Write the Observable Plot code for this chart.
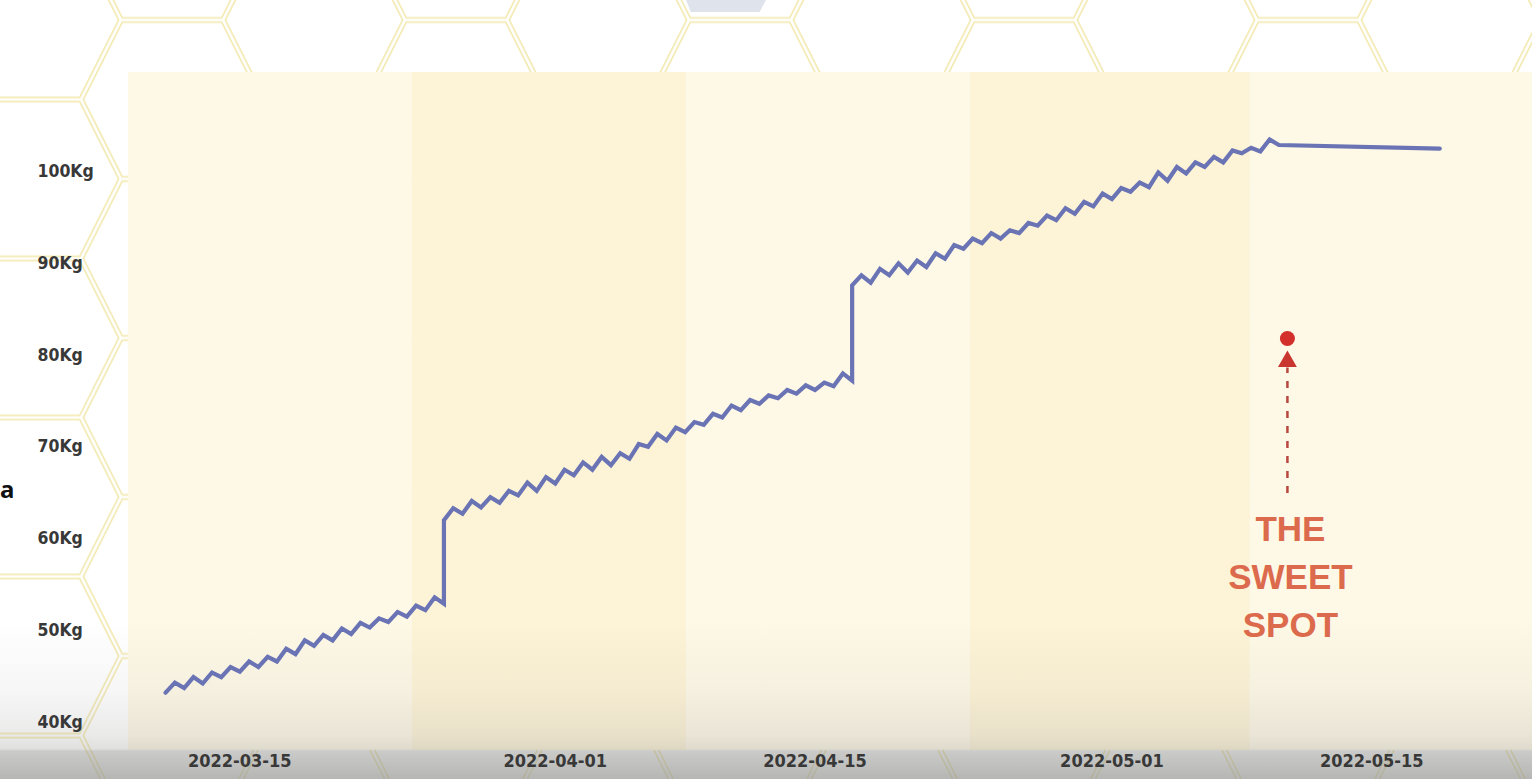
<!DOCTYPE html>
<html>
<head>
<meta charset="utf-8">
<script src="https://cdn.jsdelivr.net/npm/d3@7"></script>
<script src="https://cdn.jsdelivr.net/npm/@observablehq/plot@0.6"></script>
<style>
  html, body { margin: 0; padding: 0; background: #ffffff; overflow: hidden; }
  #wrap { position: relative; width: 1532px; height: 779px; }
  #blob { position: absolute; left: 686px; top: 0; width: 80px; height: 12px; background: #dfe4ec;
          clip-path: polygon(0 0, 100% 0, 92% 100%, 6% 100%); }
  #stray { position: absolute; left: 0px; top: 472px; font: bold 24px "Noto Sans", sans-serif; color: #111; }
</style>
</head>
<body>
<div id="wrap"><div id="stray">a</div><div id="blob"></div></div>
<script>
// ---------- data ----------
const xTickLabels = ["2022-03-15", "2022-04-01", "2022-04-15", "2022-05-01", "2022-05-15"];
const yTicks = [40, 50, 60, 70, 80, 90, 100];

// readings twice a day (00:00 / 12:00 UTC)
const seg1Start = "2022-03-11T00:00Z";
const seg1 = [43.2, 44.3, 43.7, 44.9, 44.2, 45.4, 44.9, 46.0, 45.5, 46.6, 46.0, 47.1, 46.6, 48.0, 47.4, 48.9,
              48.3, 49.5, 48.9, 50.2, 49.6, 50.8, 50.3, 51.3, 50.9, 52.0, 51.5, 52.7, 52.2, 53.6, 52.9];
const seg2Start = "2022-03-26T00:00Z";
const seg2 = [62.0, 63.3, 62.7, 64.1, 63.4, 64.5, 63.9, 65.2, 64.7, 66.1, 65.2, 66.7, 66.0, 67.5, 66.9, 68.3,
              67.5, 68.9, 68.0, 69.3, 68.7, 70.3, 70.0, 71.4, 70.7, 72.1, 71.6, 72.7, 72.4, 73.6, 73.2, 74.5,
              74.0, 75.1, 74.7, 75.6, 75.3, 76.2, 75.8, 76.7, 76.2, 77.0, 76.6, 78.0, 77.2];
const seg3Start = "2022-04-17T00:00Z";
const seg3 = [87.6, 88.7, 87.9, 89.4, 88.7, 90.0, 89.0, 90.3, 89.6, 91.1, 90.5, 92.0, 91.6, 92.7, 92.2, 93.3,
              92.7, 93.6, 93.3, 94.4, 94.1, 95.2, 94.7, 96.0, 95.4, 96.7, 96.2, 97.6, 97.0, 98.2, 97.8, 98.8,
              98.3, 99.9, 99.0, 100.5, 99.8, 101.0, 100.5, 101.6, 101.0, 102.3, 102.0, 102.6, 102.2, 103.5];
const plateauDates = ["2022-05-10T00:00Z", "2022-05-18T16:00Z"];
const plateau = [102.9, 102.5];

// alternating background bands
const bandEdges = ["2022-03-09T00:00Z", "2022-03-24T07:00Z", "2022-04-08T02:00Z", "2022-04-23T09:00Z",
                   "2022-05-08T11:00Z", "2022-05-23T16:00Z"];
const bandFills = ["#fef8e6", "#fdf3d6", "#fef8e6", "#fdf3d6", "#fef8e6"];

// annotation
const sweetDate = "2022-05-10T11:00Z";
const sweetDot = 81.8;
const sweetArrowTop = 79.3;
const sweetDashTop = 78.6;
const sweetDashBottom = 64.9;
const sweetTextY = 56.2;
const sweetLabel = "THE\nSWEET\nSPOT";

// ---------- build ----------
const H12 = 12 * 3600e3;
const expand = (start, vals) => vals.map((v, i) => ({date: new Date(Date.parse(start) + i * H12), weight: v}));
const series = [
  ...expand(seg1Start, seg1),
  ...expand(seg2Start, seg2),
  ...expand(seg3Start, seg3),
  ...plateauDates.map((d, i) => ({date: new Date(d), weight: plateau[i]}))
];
const bands = bandFills.map((f, i) => ({x1: new Date(bandEdges[i]), x2: new Date(bandEdges[i + 1]), fill: f}));
const sweet = [{date: new Date(sweetDate)}];

function honeycomb(index, scales, values, dims) {
  const g = d3.create("svg:g").attr("opacity", 0.75);
  const pat = g.append("defs").append("pattern").attr("id", "hexpat")
    .attr("patternUnits", "userSpaceOnUse").attr("width", 284).attr("height", 159)
    .attr("x", 172).attr("y", 99.5);
  const hex = (cx, cy) => `M${cx-51},${cy-79.5}L${cx+51},${cy-79.5}L${cx+91},${cy}L${cx+51},${cy+79.5}L${cx-51},${cy+79.5}L${cx-91},${cy}Z`;
  const d = [[0,0],[284,0],[0,159],[284,159],[142,79.5]].map(([x, y]) => hex(x, y)).join("");
  pat.append("path").attr("d", d).attr("fill", "none").attr("stroke", "#efe39a").attr("stroke-width", 6).attr("stroke-linejoin", "round");
  pat.append("path").attr("d", d).attr("fill", "none").attr("stroke", "#ffffff").attr("stroke-width", 2.6).attr("stroke-linejoin", "round");
  g.append("rect").attr("width", dims.width).attr("height", dims.height).attr("fill", "url(#hexpat)");
  return g.node();
}

function shade(index, scales, values, dims) {
  const g = d3.create("svg:g");
  const top = 620;
  const grad = g.append("defs").append("linearGradient").attr("id", "shadegrad")
    .attr("gradientUnits", "userSpaceOnUse").attr("x1", 0).attr("x2", 0).attr("y1", top).attr("y2", dims.height);
  const span = dims.height - top;
  [[620, 0], [690, 0.08], [735, 0.2], [749, 0.3], [751, 0.5], [779, 0.7]].forEach(([y, a]) =>
    grad.append("stop").attr("offset", (y - top) / span).attr("stop-color", "rgb(150,150,148)").attr("stop-opacity", a));
  g.append("rect").attr("y", top).attr("width", dims.width).attr("height", span).attr("fill", "url(#shadegrad)");
  return g.node();
}

const chart = Plot.plot({
  width: 1532,
  height: 779,
  marginTop: 72,
  marginBottom: 29,
  marginLeft: 128,
  marginRight: 0,
  style: {background: "transparent", fontFamily: "'DejaVu Sans Condensed', 'DejaVu Sans', sans-serif", fontStretch: "condensed", overflow: "visible"},
  x: {type: "utc", domain: [new Date(bandEdges[0]), new Date(bandEdges[bandEdges.length - 1])], label: null},
  y: {domain: [36.9, 110.8], label: null},
  marks: [
    honeycomb,
    Plot.rect(bands, {x1: "x1", x2: "x2", fill: "fill"}),
    shade,
    Plot.line(series, {x: "date", y: "weight", stroke: "#6a74b5", strokeWidth: 4.2, strokeLinejoin: "miter", strokeMiterlimit: 8}),
    Plot.ruleX(sweet, {x: "date", y1: sweetDashBottom, y2: sweetDashTop, stroke: "#b8483f", strokeWidth: 2.5, strokeDasharray: "7,8"}),
    Plot.dot(sweet, {x: "date", y: sweetArrowTop, symbol: "triangle", r: 7, fill: "#c9352f", stroke: "none"}),
    Plot.dot(sweet, {x: "date", y: sweetDot, r: 7.5, fill: "#d32f2b", stroke: "none"}),
    Plot.text(sweet, {x: "date", y: sweetTextY, text: () => sweetLabel, dx: 3, lineHeight: 1.38, fontSize: 35,
      fontWeight: "bold", fontFamily: "'Liberation Sans', Arial, sans-serif", fill: "#dc6a4c", textAnchor: "middle"}),
    Plot.axisX({ticks: xTickLabels.map(d => new Date(d + "T00:00Z")), tickFormat: d3.utcFormat("%Y-%m-%d"),
      tickSize: 0, tickPadding: 4, fontSize: 18, fontWeight: "bold", fill: "#383838"}),
    Plot.axisY({ticks: yTicks, tickFormat: d => d + "Kg", tickSize: 0, tickPadding: 0, textAnchor: "start", dx: -91,
      fontSize: 17.5, fontWeight: "bold", fill: "#383838"})
  ]
});
chart.style.position = "absolute";
chart.style.left = "0";
chart.style.top = "0";
const wrap = document.getElementById("wrap");
wrap.insertBefore(chart, wrap.firstChild);
</script>
</body>
</html>
